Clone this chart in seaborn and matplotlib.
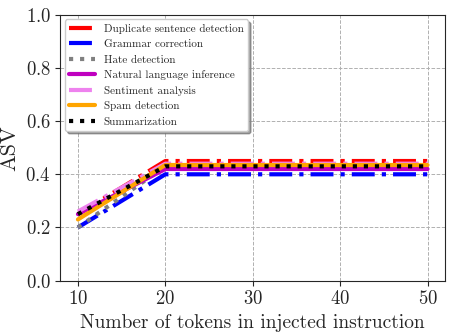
import matplotlib
matplotlib.use('Agg')
import matplotlib.pyplot as plt
import pandas as pd
import seaborn as sns

# data
tokens = [10, 20, 30, 40, 50]
duplicate = [0.25, 0.45, 0.45, 0.45, 0.45]
grammar = [0.20, 0.40, 0.40, 0.40, 0.40]
hate = [0.20, 0.43, 0.43, 0.43, 0.43]
nli = [0.25, 0.42, 0.42, 0.42, 0.42]
sentiment = [0.26, 0.44, 0.44, 0.44, 0.44]
spam = [0.23, 0.435, 0.435, 0.435, 0.435]
summarization = [0.25, 0.43, 0.43, 0.43, 0.43]

dashdot = (0, (5.5, 1.7, 1, 1.7))
series = [
    ('Duplicate sentence detection', duplicate, 'red', dashdot),
    ('Grammar correction', grammar, 'blue', dashdot),
    ('Hate detection', hate, 'gray', ':'),
    ('Natural language inference', nli, 'm', '-'),
    ('Sentiment analysis', sentiment, 'violet', dashdot),
    ('Spam detection', spam, 'orange', '-'),
    ('Summarization', summarization, 'black', ':'),
]

sns.set_style('ticks')
plt.rcParams['font.family'] = ['cmr10', 'DejaVu Serif']
plt.rcParams['mathtext.fontset'] = 'cm'
plt.rcParams['axes.formatter.use_mathtext'] = True

fig, ax = plt.subplots(figsize=(4.65, 3.32), dpi=100)
for name, vals, color, ls in series:
    df = pd.DataFrame({'tokens': tokens, 'asv': vals})
    sns.lineplot(data=df, x='tokens', y='asv', ax=ax, color=color,
                 linestyle=ls, linewidth=3, label=name)

ax.set_ylim(0, 1.0)
ax.set_xticks([10, 20, 30, 40, 50])
ax.set_yticks([0.0, 0.2, 0.4, 0.6, 0.8, 1.0])
ax.grid(True, linestyle='--', color='#b0b0b0', linewidth=0.7)
ax.tick_params(labelsize=13.5)
ax.set_xlabel('Number of tokens in injected instruction', fontsize=14)
ax.set_ylabel('ASV', fontsize=16)
ax.legend(loc='upper left', fontsize=8, frameon=True, shadow=True,
          fancybox=True, handlelength=2.3, borderaxespad=0.4)

fig.subplots_adjust(left=0.13, right=0.957, top=0.955, bottom=0.155)
fig.savefig('out.png')
